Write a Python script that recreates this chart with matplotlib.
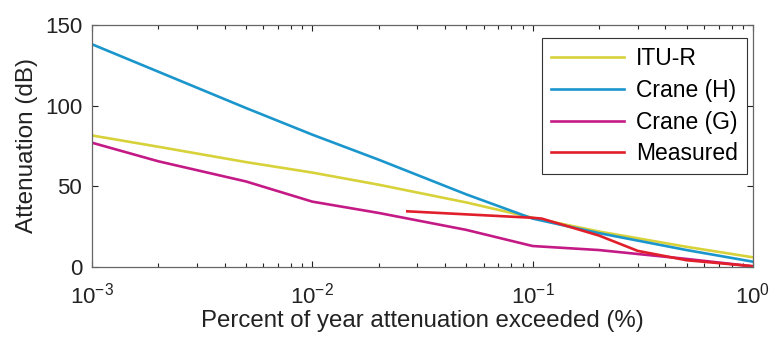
import numpy as np
import matplotlib
matplotlib.use("Agg")
import matplotlib.pyplot as plt

plt.rcParams['font.family'] = ['Liberation Sans', 'DejaVu Sans']

# percent of year (%)
p_model = [0.001, 0.002, 0.005, 0.01, 0.02, 0.05, 0.1, 0.2, 0.5, 1.0]
itu_r = [81.5, 74.5, 65.0, 58.5, 51.0, 40.0, 30.5, 22.0, 12.5, 6.0]
crane_h = [138.0, 121.0, 98.5, 82.0, 66.5, 45.0, 30.0, 21.0, 10.5, 3.3]
crane_g = [77.0, 65.5, 53.0, 40.5, 33.5, 23.0, 13.0, 10.5, 5.0, 0.4]

p_meas = [0.027, 0.1, 0.11, 0.2, 0.3, 0.5, 1.0]
measured = [34.5, 30.5, 30.0, 19.5, 10.0, 4.2, 0.5]

fig = plt.figure(figsize=(7.73, 3.41), dpi=100)
ax = fig.add_axes([0.119, 0.217, 0.855, 0.710])

ax.plot(p_model, itu_r, color='#d8d23a', lw=1.9, label='ITU-R')
ax.plot(p_model, crane_h, color='#1b96cc', lw=1.9, label='Crane (H)')
ax.plot(p_model, crane_g, color='#c41a86', lw=1.9, label='Crane (G)')
ax.plot(p_meas, measured, color='#e01f2b', lw=1.9, label='Measured')

ax.set_xscale('log')
ax.set_xlim(1e-3, 1)
ax.set_ylim(0, 150)
ax.set_yticks([0, 50, 100, 150])

ax.tick_params(which='both', direction='in', top=True, right=True,
               labelsize=16, colors='#222222', width=0.8)
ax.tick_params(which='major', length=4)
ax.tick_params(which='minor', length=3)
ax.tick_params(axis='x', which='major', pad=11)
ax.tick_params(axis='y', which='major', pad=7)
for s in ax.spines.values():
    s.set_color('#666666')
    s.set_linewidth(0.9)

ax.set_xlabel('Percent of year attenuation exceeded (%)', fontsize=17.3, color='#222222', labelpad=1)
ax.set_ylabel('Attenuation (dB)', fontsize=17.5, color='#222222', labelpad=5)

leg = ax.legend(loc='upper right', bbox_to_anchor=(0.991, 0.946), fontsize=16.5,
                fancybox=False, framealpha=1, edgecolor='#333333',
                handlelength=3.2, labelspacing=0.38, borderpad=0.4, handletextpad=0.5,
                borderaxespad=0)
leg.get_frame().set_linewidth(0.8)

fig.savefig('out.png', dpi=100)
